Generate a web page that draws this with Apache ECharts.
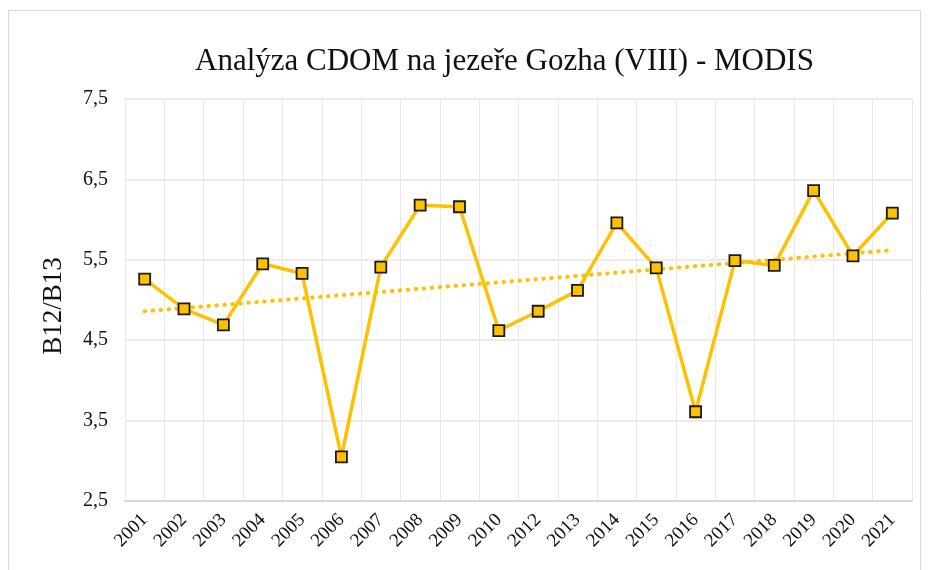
<!DOCTYPE html>
<html>
<head>
<meta charset="utf-8">
<script src="https://cdn.jsdelivr.net/npm/echarts@6/dist/echarts.min.js"></script>
<style>
  html, body { margin: 0; padding: 0; background: #fff; }
  #chart { width: 928px; height: 570px; }
</style>
</head>
<body>
<div id="chart"></div>
<script>
// years (2011 missing in source)
const years = ['2001', '2002', '2003', '2004', '2005', '2006', '2007', '2008', '2009', '2010',
  '2012', '2013', '2014', '2015', '2016', '2017', '2018', '2019', '2020', '2021']
// B12/B13 ratio
const ratio = [5.26, 4.89, 4.69, 5.45, 5.33, 3.05, 5.41, 6.18, 6.16, 4.62,
  4.86, 5.12, 5.96, 5.40, 3.61, 5.49, 5.43, 6.36, 5.55, 6.08]
// linear trend line: only the ends are drawn, nulls between
const trend = [4.86, null, null, null, null, null, null, null, null, null,
  null, null, null, null, null, null, null, null, null, 5.62]
const yTicks = [2.5, 3.5, 4.5, 5.5, 6.5, 7.5]

const chart = echarts.init(document.getElementById('chart'))
const serif = '"Liberation Serif", "DejaVu Serif", serif'
const gold = '#FFC000'

chart.setOption({
  animation: false,
  backgroundColor: '#fff',
  title: {
    text: 'Analýza CDOM na jezeře Gozha (VIII) - MODIS',
    left: 190,
    top: 41,
    textStyle: { fontFamily: serif, fontSize: 31, fontWeight: 'normal', color: '#111' },
  },
  graphic: [{
    type: 'rect',
    shape: { x: 8.5, y: 10.5, width: 912, height: 580 },
    style: { fill: 'none', stroke: '#d9d9d9', lineWidth: 1 },
    silent: true,
  }],
  grid: { left: 125, right: 16, top: 99, bottom: 69 },
  xAxis: {
    type: 'category',
    data: years,
    boundaryGap: true,
    axisLine: { lineStyle: { color: '#d0d0d0', width: 1.5 } },
    axisTick: { show: false },
    splitLine: { show: true, interval: 0, lineStyle: { color: '#e8e8e8' } },
    axisLabel: {
      interval: 0,
      rotate: 45,
      margin: 16,
      fontFamily: serif,
      fontSize: 19,
      color: '#111',
    },
  },
  yAxis: {
    type: 'value',
    min: yTicks[0],
    max: yTicks[yTicks.length - 1],
    interval: 1,
    name: 'B12/B13',
    nameLocation: 'middle',
    nameGap: 58,
    nameRotate: 90,
    nameTextStyle: { fontFamily: serif, fontSize: 27, color: '#111', padding: [0, 12, 0, 0] },
    axisLine: { show: false },
    axisTick: { show: false },
    splitLine: { lineStyle: { color: '#e6e6e6', width: 1.5 } },
    axisLabel: {
      margin: 17,
      fontFamily: serif,
      fontSize: 20,
      color: '#111',
      formatter: v => v.toFixed(1).replace('.', ','),
    },
  },
  series: [
    {
      type: 'line',
      data: trend,
      connectNulls: true,
      symbol: 'none',
      lineStyle: { color: gold, width: 4, type: [0.5, 7.5], cap: 'round' },
      z: 1,
    },
    {
      type: 'line',
      data: ratio,
      symbol: 'rect',
      symbolSize: 11,
      lineStyle: { color: gold, width: 3.5 },
      itemStyle: { color: gold, borderColor: '#1a1a1a', borderWidth: 1.8 },
      z: 2,
    },
  ],
})
</script>
</body>
</html>
